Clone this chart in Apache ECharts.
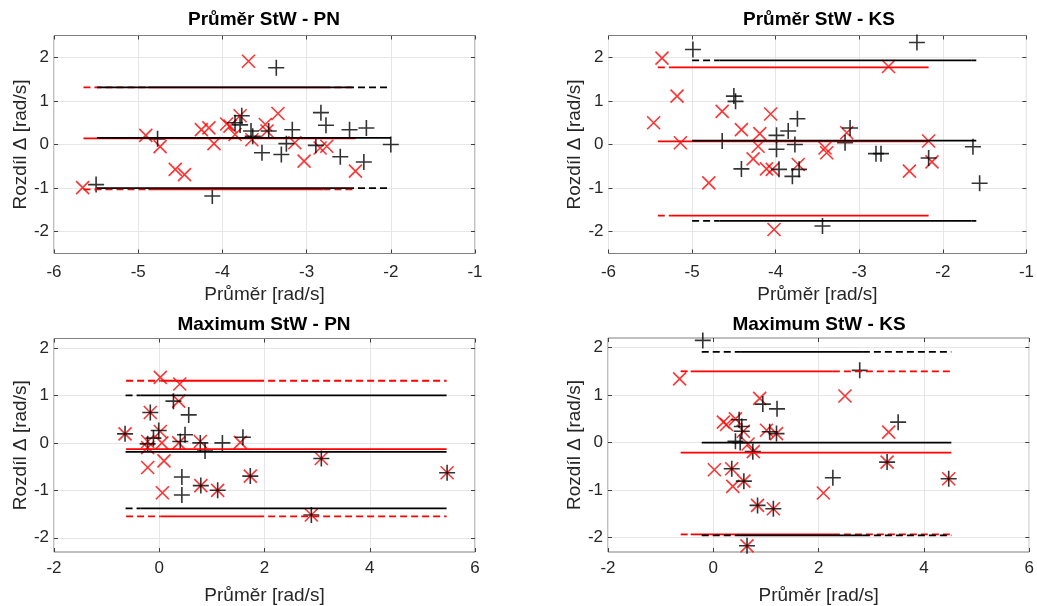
<!DOCTYPE html>
<html><head><meta charset="utf-8">
<script src="https://cdn.jsdelivr.net/npm/echarts@6/dist/echarts.min.js"></script>
<style>html,body{margin:0;padding:0;background:#fff}#c{width:1037px;height:606px}</style>
</head><body><div id="c"></div>
<script>
// ---------- DATA ----------
const titles = ['Průměr StW - PN', 'Průměr StW - KS', 'Maximum StW - PN', 'Maximum StW - KS'];
const xName = 'Průměr [rad/s]';
const yName = 'Rozdíl Δ [rad/s]';
const yTickValues = [-2, -1, 0, 1, 2];
const xRangeTop = [-6, -1, 1];     // min, max, step
const xRangeBottom = [-2, 6, 2];
const yRangeTop = [-2.5, 2.5];
const yRangeBottom = [-2.3, 2.2];

// Průměr StW - PN
const tlRed = [[-3.69,1.91],[-3.34,0.71],[-3.79,0.66],[-3.91,0.42],[-3.85,0.23],[-4.25,0.34],[-4.16,0.38],
  [-4.91,0.21],[-4.74,-0.05],[-4.10,0.02],[-4.56,-0.57],[-4.45,-0.69],[-5.66,-0.99],[-3.65,0.11],[-3.49,0.46],
  [-3.47,0.31],[-3.14,0.04],[-3.03,-0.38],[-2.84,-0.08],[-2.76,-0.04],[-2.42,-0.61],[-3.95,0.47]];
const tlBlack = [[-3.36,1.76],[-3.77,0.66],[-3.85,0.50],[-3.79,0.45],[-3.66,0.31],[-3.64,0.19],[-3.45,0.31],
  [-3.17,0.34],[-2.83,0.73],[-2.77,0.44],[-2.49,0.34],[-2.29,0.38],[-4.77,0.13],[-5.50,-0.92],[-4.12,-1.18],
  [-3.53,-0.19],[-3.30,-0.23],[-3.24,0.02],[-2.89,-0.02],[-2.60,-0.28],[-2.32,-0.40],[-2.00,0.00]];
const tlRedLevels = [1.31, 0.14, -1.03];      // upper limit, mean, lower limit
const tlRedSpan = [-5.65, -4.88, -2.80, -2.42]; // dashed from, solid from, solid to, dashed to
const tlBlackLevels = [1.31, 0.15, -1.00];
const tlBlackSpan = [-5.49, -5.49, -2.52, -2.00];

// Průměr StW - KS
const trRed = [[-5.36,1.98],[-5.18,1.11],[-5.46,0.50],[-5.14,0.04],[-4.80,-0.88],[-4.64,0.76],[-4.41,0.34],
  [-4.06,0.70],[-4.19,0.25],[-4.21,-0.04],[-4.27,-0.33],[-4.11,-0.56],[-4.04,-0.57],[-4.02,-1.95],[-3.73,-0.46],
  [-3.41,-0.08],[-3.39,-0.19],[-3.15,0.27],[-2.65,1.79],[-2.40,-0.61],[-2.17,0.08],[-2.13,-0.40]];
const trBlack = [[-4.99,2.18],[-2.31,2.34],[-4.50,1.11],[-4.48,0.99],[-4.64,0.08],[-4.41,-0.56],[-3.99,0.21],
  [-3.99,-0.11],[-3.85,0.31],[-3.74,0.59],[-3.77,0.00],[-3.96,-0.57],[-3.80,-0.73],[-3.72,-0.57],[-3.44,-1.87],
  [-3.17,0.04],[-3.11,0.38],[-2.80,-0.21],[-2.74,-0.21],[-2.17,-0.31],[-1.64,-0.05],[-1.56,-0.89]];
const trRedLevels = [1.77, 0.07, -1.63];
const trRedSpan = [-5.41, -5.25, -2.17, -2.17];
const trBlackLevels = [1.93, 0.09, -1.75];
const trBlackSpan = [-5.00, -4.67, -1.66, -1.60];

// Maximum StW - PN
const blRed = [[0.02,1.38],[0.39,1.24],[0.37,0.88],[-0.17,0.64],[0.02,0.24],[-0.65,0.19],[-0.22,0.03],
  [0.05,0.00],[0.37,0.00],[0.78,0.03],[1.54,0.01],[-0.22,-0.52],[0.09,-0.38],[0.06,-1.05],[0.79,-0.90],
  [1.11,-1.00],[1.73,-0.70],[3.08,-0.33],[2.89,-1.52],[5.47,-0.63],[-0.22,-0.10]];
const blBlack = [[-0.65,0.19],[-0.17,0.64],[-0.01,0.26],[-0.11,0.10],[-0.22,-0.02],[0.27,0.88],[0.56,0.59],
  [0.49,0.17],[0.40,0.03],[0.78,0.00],[0.87,-0.17],[1.20,0.00],[1.59,0.12],[0.43,-0.72],[0.43,-1.10],
  [0.79,-0.90],[1.11,-1.00],[1.73,-0.70],[3.08,-0.33],[2.89,-1.52],[5.47,-0.63]];
const blRedLevels = [1.31, -0.13, -1.55];
const blRedSpan = [-0.63, 0.02, 1.86, 5.46];
const blBlackLevels = [1.00, -0.19, -1.38];
const blBlackSpan = [-0.64, -0.36, 5.46, 5.46];

// Maximum StW - KS
const brRed = [[-0.64,1.34],[0.19,0.43],[0.25,0.38],[0.42,0.50],[0.57,0.24],[0.88,0.93],[1.01,0.26],
  [1.20,0.19],[0.66,-0.03],[0.76,-0.19],[0.02,-0.57],[0.37,-0.92],[0.35,-0.55],[0.58,-0.81],[0.84,-1.32],
  [1.14,-1.39],[0.64,-2.17],[2.09,-1.06],[2.50,0.98],[3.33,0.22],[3.30,-0.41],[4.47,-0.76]];
const brBlack = [[-0.20,2.15],[2.78,1.52],[0.49,0.48],[0.54,0.34],[0.54,0.24],[0.94,0.81],[1.21,0.71],
  [0.42,0.03],[0.51,0.00],[0.75,-0.19],[1.07,0.23],[0.35,-0.55],[0.58,-0.81],[0.84,-1.32],[1.14,-1.39],
  [0.64,-2.17],[2.27,-0.74],[3.51,0.43],[3.30,-0.41],[4.47,-0.76],[1.20,0.19]];
const brRedLevels = [1.50, -0.21, -1.93];
const brRedSpan = [-0.62, -0.43, 2.27, 4.52];
const brBlackLevels = [1.91, 0.00, -1.95];
const brBlackSpan = [-0.22, 0.51, 2.84, 4.52];

// ---------- BUILD ----------
const FONT = "'Liberation Sans', Arial, Helvetica, sans-serif";
const RED = '#ff0000', BLACK = '#000000';
const panels = [
  {grid: {left: 54, top: 35.5, width: 421, height: 218}, xr: xRangeTop, yr: yRangeTop,
   red: tlRed, black: tlBlack, rl: tlRedLevels, rs: tlRedSpan, kl: tlBlackLevels, ks: tlBlackSpan,
   tx: 264, ty: 10, labelMargin: 10, nameGap: 32},
  {grid: {left: 608.5, top: 35.5, width: 421.5, height: 218}, xr: xRangeTop, yr: yRangeTop,
   red: trRed, black: trBlack, rl: trRedLevels, rs: trRedSpan, kl: trBlackLevels, ks: trBlackSpan,
   tx: 819, ty: 10, labelMargin: 10, nameGap: 32},
  {grid: {left: 54, top: 338.5, width: 421, height: 217.7}, xr: xRangeBottom, yr: yRangeBottom,
   red: blRed, black: blBlack, rl: blRedLevels, rs: blRedSpan, kl: blBlackLevels, ks: blBlackSpan,
   tx: 264, ty: 315, labelMargin: 8, nameGap: 34},
  {grid: {left: 608, top: 338, width: 422, height: 218}, xr: xRangeBottom, yr: yRangeBottom,
   red: brRed, black: brBlack, rl: brRedLevels, rs: brRedSpan, kl: brBlackLevels, ks: brBlackSpan,
   tx: 819, ty: 315, labelMargin: 8, nameGap: 34}
];

const crossPath = 'path://M0,0 L10,10 M10,0 L0,10';
const plusPath = 'path://M5,0 L5,10 M0,5 L10,5';

const option = {
  animation: false,
  backgroundColor: '#fff',
  title: [], grid: [], xAxis: [], yAxis: [], series: []
};

function seg(i, x0, x1, y, color, dashed) {
  if (x1 - x0 <= 0) return;
  option.series.push({
    type: 'line', xAxisIndex: 2 * i, yAxisIndex: 2 * i, symbol: 'none', silent: true,
    data: [[x0, y], [x1, y]],
    lineStyle: {color: color, width: 1.8, type: dashed ? [7, 4] : 'solid'}
  });
}
function levelLines(i, levels, span, color) {
  // mean: solid across full span
  seg(i, span[0], span[3], levels[1], color, false);
  [levels[0], levels[2]].forEach(function (lv) {
    seg(i, span[0], span[1], lv, color, true);
    seg(i, span[1], span[2], lv, color, false);
    seg(i, span[2], span[3], lv, color, true);
  });
}

panels.forEach(function (p, i) {
  option.title.push({
    text: titles[i], left: p.tx, top: p.ty, textAlign: 'center', padding: 0,
    textStyle: {fontFamily: FONT, fontWeight: 'bold', fontSize: 19, color: '#000'}
  });
  option.grid.push(Object.assign({show: true, borderColor: '#808080', borderWidth: 1, backgroundColor: 'transparent'}, p.grid));
  const tickStyle = {show: true, inside: true, length: 4, lineStyle: {color: '#404040', width: 1}};
  const noLine = {show: false, onZero: false};
  option.xAxis.push({
    type: 'value', gridIndex: i, position: 'bottom', min: p.xr[0], max: p.xr[1], interval: p.xr[2],
    axisLine: noLine, axisTick: tickStyle,
    axisLabel: {fontFamily: FONT, fontSize: 17, color: '#262626', margin: p.labelMargin},
    splitLine: {show: true, lineStyle: {color: '#e6e6e6', width: 1}},
    name: xName, nameLocation: 'middle', nameGap: p.nameGap,
    nameTextStyle: {fontFamily: FONT, fontSize: 19, color: '#262626'}
  });
  option.xAxis.push({
    type: 'value', gridIndex: i, position: 'top', min: p.xr[0], max: p.xr[1], interval: p.xr[2],
    axisLine: noLine, axisTick: tickStyle, axisLabel: {show: false}, splitLine: {show: false}
  });
  option.yAxis.push({
    type: 'value', gridIndex: i, position: 'left', min: p.yr[0], max: p.yr[1],
    axisLine: noLine,
    axisTick: Object.assign({customValues: yTickValues}, tickStyle),
    axisLabel: {customValues: yTickValues, fontFamily: FONT, fontSize: 17, color: '#262626', margin: 5},
    splitLine: {show: true, lineStyle: {color: '#e6e6e6', width: 1}},
    name: yName, nameLocation: 'middle', nameGap: 23,
    nameTextStyle: {fontFamily: FONT, fontSize: 19, color: '#262626'}
  });
  option.yAxis.push({
    type: 'value', gridIndex: i, position: 'right', min: p.yr[0], max: p.yr[1],
    axisLine: noLine,
    axisTick: Object.assign({customValues: yTickValues}, tickStyle),
    axisLabel: {show: false, customValues: yTickValues}, splitLine: {show: false}
  });
  levelLines(i, p.rl, p.rs, RED);
  levelLines(i, p.kl, p.ks, BLACK);
  option.series.push({
    type: 'scatter', xAxisIndex: 2 * i, yAxisIndex: 2 * i, data: p.red,
    symbol: crossPath, symbolSize: 13, silent: true,
    itemStyle: {color: 'rgba(0,0,0,0)', borderColor: RED, borderWidth: 1.6}
  });
  option.series.push({
    type: 'scatter', xAxisIndex: 2 * i, yAxisIndex: 2 * i, data: p.black,
    symbol: plusPath, symbolSize: 16, silent: true,
    itemStyle: {color: 'rgba(0,0,0,0)', borderColor: BLACK, borderWidth: 1.6}
  });
});

const chart = echarts.init(document.getElementById('c'), null, {renderer: 'canvas'});
chart.setOption(option);
</script>
</body></html>
